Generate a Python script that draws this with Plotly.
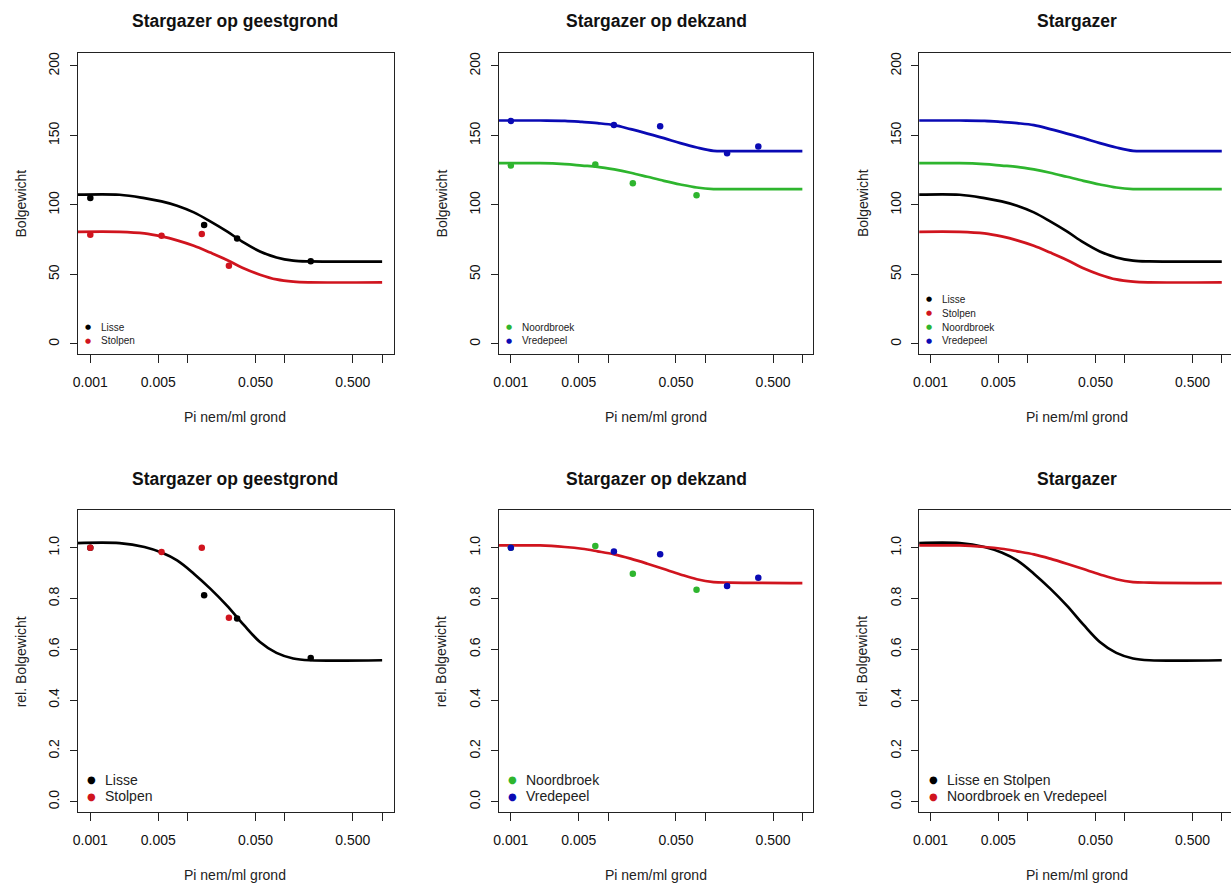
import plotly.graph_objects as go

W, H = 1231, 884

# ---------------- data ----------------
x_ticks = [0.001, 0.005, 0.01, 0.05, 0.1, 0.5, 1.0]
x_ticktext = ["0.001", "0.005", "", "0.050", "", "0.500", ""]
y_ticks_abs = [0, 50, 100, 150, 200]
y_ticktext_abs = ["0", "50", "100", "150", "200"]
y_ticks_rel = [0.0, 0.2, 0.4, 0.6, 0.8, 1.0]
y_ticktext_rel = ["0.0", "0.2", "0.4", "0.6", "0.8", "1.0"]

# fitted curves, read at these densities
curve_x = [0.0007, 0.002, 0.0036, 0.0054, 0.0078, 0.0116, 0.0171, 0.0254,
           0.0376, 0.0555, 0.082, 0.122, 0.18, 1.0]
lisse_fit = [107.3, 107.3, 104.9, 102.5, 99.4, 94.6, 88.1, 80.9, 73.0, 66.5,
             62.2, 59.9, 59.3, 59.2]
stolpen_fit = [80.6, 80.6, 79.5, 77.3, 74.5, 70.6, 65.7, 60.4, 54.4, 49.8,
               46.4, 44.8, 44.3, 44.3]
noordbroek_fit = [130.0, 130.0, 129.3, 128.3, 127.4, 125.5, 123.1, 120.2,
                  117.3, 114.7, 112.5, 111.4, 111.4, 111.4]
vredepeel_fit = [160.7, 160.7, 160.5, 159.7, 158.8, 157.4, 154.5, 151.3,
                 148.0, 144.4, 141.3, 138.9, 138.7, 138.7]
rel_geest_fit = [1.018, 1.018, 1.003, 0.981, 0.950, 0.898, 0.839, 0.772,
                 0.697, 0.629, 0.586, 0.564, 0.557, 0.557]
rel_dek_fit = [1.009, 1.009, 1.003, 0.996, 0.986, 0.974, 0.957, 0.937,
               0.916, 0.895, 0.876, 0.865, 0.863, 0.861]

# observations
lisse_x = [0.001, 0.0148, 0.0323, 0.1845]
lisse_y = [104.9, 85.5, 75.9, 59.4]
lisse_rel = [1.0, 0.813, 0.721, 0.566]
stolpen_x = [0.001, 0.0054, 0.0140, 0.0266]
stolpen_y = [78.5, 77.8, 79.0, 56.3]
stolpen_rel = [1.0, 0.983, 1.0, 0.724]
noordbroek_x = [0.001, 0.0074, 0.0180, 0.0815]
noordbroek_y = [128.3, 129.0, 115.5, 106.9]
noordbroek_rel = [1.0, 1.007, 0.898, 0.835]
vredepeel_x = [0.001, 0.0115, 0.0344, 0.168, 0.352]
vredepeel_y = [160.4, 157.5, 156.5, 137.1, 142.0]
vredepeel_rel = [1.0, 0.985, 0.974, 0.849, 0.882]

titles = ["Stargazer op geestgrond", "Stargazer op dekzand", "Stargazer",
          "Stargazer op geestgrond", "Stargazer op dekzand", "Stargazer"]
x_title = "Pi nem/ml grond"
y_titles = ["Bolgewicht", "Bolgewicht", "Bolgewicht",
            "rel. Bolgewicht", "rel. Bolgewicht", "rel. Bolgewicht"]
legend_labels = [["Lisse", "Stolpen"], ["Noordbroek", "Vredepeel"],
                 ["Lisse", "Stolpen", "Noordbroek", "Vredepeel"],
                 ["Lisse", "Stolpen"], ["Noordbroek", "Vredepeel"],
                 ["Lisse en Stolpen", "Noordbroek en Vredepeel"]]

BLACK = "#000000"
RED = "#D0141E"
GREEN = "#2EB52E"
BLUE = "#0A0AB4"
legend_colors = [[BLACK, RED], [GREEN, BLUE], [BLACK, RED, GREEN, BLUE],
                 [BLACK, RED], [GREEN, BLUE], [BLACK, RED]]

FONT = "Liberation Sans, Arial, sans-serif"

# ---------------- layout geometry (pixels) ----------------
x_dom_px = [(72, 390), (495, 811), (917.7, 1231)]
x_rng = [(-3.13, 0.123), (-3.126, 0.11), (-3.116, 0.095)]
y_dom_px = [(52.3, 353.3), (510, 812.3)]
y_rng = [(-7.2, 209.1), (-0.042, 1.147)]

fig = go.Figure()


def line(xs, ys, color, ax):
    fig.add_trace(go.Scatter(x=xs, y=ys, mode="lines",
                             line=dict(color=color, width=2.7, shape="spline",
                                       smoothing=1.0),
                             xaxis="x" + ax, yaxis="y" + ax,
                             showlegend=False, hoverinfo="skip"))


def pts(xs, ys, color, ax):
    fig.add_trace(go.Scatter(x=xs, y=ys, mode="markers",
                             marker=dict(color=color, size=6.5),
                             xaxis="x" + ax, yaxis="y" + ax,
                             showlegend=False))


# panel 1
line(curve_x, lisse_fit, BLACK, "")
line(curve_x, stolpen_fit, RED, "")
pts(lisse_x, lisse_y, BLACK, "")
pts(stolpen_x, stolpen_y, RED, "")
# panel 2
line(curve_x, noordbroek_fit, GREEN, "2")
line(curve_x, vredepeel_fit, BLUE, "2")
pts(noordbroek_x, noordbroek_y, GREEN, "2")
pts(vredepeel_x, vredepeel_y, BLUE, "2")
# panel 3
line(curve_x, lisse_fit, BLACK, "3")
line(curve_x, stolpen_fit, RED, "3")
line(curve_x, noordbroek_fit, GREEN, "3")
line(curve_x, vredepeel_fit, BLUE, "3")
# panel 4
line(curve_x, rel_geest_fit, BLACK, "4")
pts(lisse_x, lisse_rel, BLACK, "4")
pts(stolpen_x, stolpen_rel, RED, "4")
# panel 5
line(curve_x, rel_dek_fit, RED, "5")
pts(noordbroek_x, noordbroek_rel, GREEN, "5")
pts(vredepeel_x, vredepeel_rel, BLUE, "5")
# panel 6
line(curve_x, rel_geest_fit, BLACK, "6")
line(curve_x, rel_dek_fit, RED, "6")

layout = dict(width=W, height=H, margin=dict(l=0, r=0, t=0, b=0),
              paper_bgcolor="white", plot_bgcolor="white", showlegend=False,
              font=dict(family=FONT, color="#111111"))
annotations = []

for i in range(6):
    col, row = i % 3, i // 3
    key = "" if i == 0 else str(i + 1)
    xd, yd = x_dom_px[col], y_dom_px[row]
    layout["xaxis" + key] = dict(
        type="log", domain=[xd[0] / W, xd[1] / W], range=list(x_rng[col]),
        anchor="y" + key, tickvals=x_ticks, ticktext=x_ticktext,
        ticks="outside", ticklen=8, tickwidth=1, tickcolor="#222",
        showline=True, linecolor="#222", linewidth=1, mirror=True,
        showgrid=False, zeroline=False, tickfont=dict(size=14, family=FONT),
        ticklabelstandoff=7)
    layout["yaxis" + key] = dict(
        domain=[1 - yd[1] / H, 1 - yd[0] / H], range=list(y_rng[row]),
        anchor="x" + key,
        tickvals=y_ticks_abs if row == 0 else y_ticks_rel,
        ticktext=y_ticktext_abs if row == 0 else y_ticktext_rel,
        tickangle=-90, ticks="outside", ticklen=7, tickwidth=1, tickcolor="#222",
        showline=True, linecolor="#222", linewidth=1, mirror=(col != 2),
        showgrid=False, zeroline=False, tickfont=dict(size=14, family=FONT),
        ticklabelstandoff=5)

    cx = (xd[0] + 11.6 + xd[0] + 11.6 + 293.3) / 2  # centre of the tick span
    title_y = 20 if row == 0 else 479
    annotations.append(dict(text="<b>" + titles[i] + "</b>", x=cx / W, y=1 - title_y / H,
                            xref="paper", yref="paper", showarrow=False,
                            xanchor="center", yanchor="middle",
                            font=dict(size=17.5, family=FONT, color="#111")))
    xt_y = yd[1] + 63
    annotations.append(dict(text=x_title, x=cx / W, y=1 - xt_y / H,
                            xref="paper", yref="paper", showarrow=False,
                            xanchor="center", yanchor="middle",
                            font=dict(size=14, family=FONT, color="#222")))
    annotations.append(dict(text=y_titles[i], x=(xd[0] - 57) / W,
                            y=1 - ((yd[0] + yd[1]) / 2) / H,
                            xref="paper", yref="paper", showarrow=False,
                            textangle=-90, xanchor="center", yanchor="middle",
                            font=dict(size=14, family=FONT, color="#222")))

    # legend (bottom-left inside the box)
    labels = legend_labels[i]
    if row == 0:
        fs, dot_fs, step = 10, 7, 13.9
        bottom = 340.3
        dot_dx, lab_dx = 10.3, 21.3
    else:
        fs, dot_fs, step = 14, 10, 16.6
        bottom = 796.0
        dot_dx, lab_dx = 14.0, 25.7
    n = len(labels)
    for k, (lab, colr) in enumerate(zip(labels, legend_colors[i])):
        yy = bottom - (n - 1 - k) * step
        annotations.append(dict(text="●", x=(xd[0] + dot_dx) / W, y=1 - yy / H,
                                xref="paper", yref="paper", showarrow=False,
                                xanchor="center", yanchor="middle",
                                font=dict(size=dot_fs, family="DejaVu Sans", color=colr)))
        annotations.append(dict(text=lab, x=(xd[0] + lab_dx) / W, y=1 - yy / H,
                                xref="paper", yref="paper", showarrow=False,
                                xanchor="left", yanchor="middle",
                                font=dict(size=fs, family=FONT, color="#222")))

layout["annotations"] = annotations
fig.update_layout(**layout)
fig.write_html("out.html")
